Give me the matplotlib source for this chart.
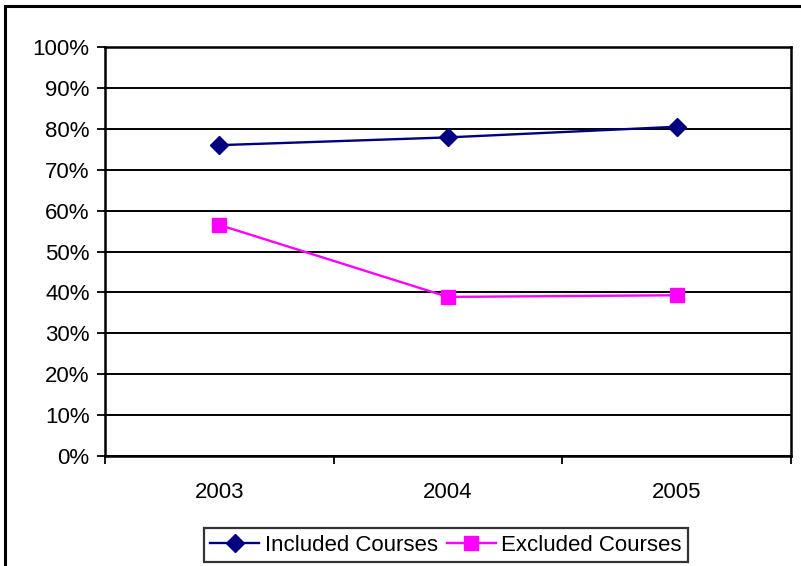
import matplotlib
matplotlib.use("Agg")
import matplotlib.pyplot as plt
from matplotlib.patches import Rectangle
from matplotlib.ticker import FixedLocator, PercentFormatter

plt.rcParams['font.family'] = ['Liberation Sans', 'DejaVu Sans']

years = ["2003", "2004", "2005"]
included = [76.0, 77.9, 80.5]
excluded = [56.5, 38.9, 39.3]
y_ticks = list(range(0, 101, 10))

W, H = 801, 566
FS = 16
fig = plt.figure(figsize=(W / 100, H / 100), dpi=100)

# chart frame (runs off the right and bottom edges)
fig.patches.append(Rectangle((5 / W, -0.05), 1.1, 1 - 6 / H + 0.05,
                             transform=fig.transFigure, fill=False,
                             edgecolor='black', linewidth=2.2, zorder=0))

ax = fig.add_axes([105 / W, 1 - 456 / H, (791 - 105) / W, (456 - 47) / H])
x = list(range(len(years)))

ax.plot(x, included, color='#000080', linewidth=1.7, marker='D',
        markersize=9, markerfacecolor='#000080', markeredgecolor='#000080',
        label='Included Courses', zorder=3)
ax.plot(x, excluded, color='#FF00FF', linewidth=1.7, marker='s',
        markersize=10, markerfacecolor='#FF00FF', markeredgecolor='#FF00FF',
        label='Excluded Courses', zorder=3)

ax.set_xlim(-0.5, len(years) - 0.5)
ax.set_ylim(0, 100)
ax.set_yticks(y_ticks)
ax.yaxis.set_major_formatter(PercentFormatter(decimals=0))
ax.set_xticks(x)
ax.set_xticklabels(years)
ax.xaxis.set_minor_locator(FixedLocator([i - 0.5 for i in range(len(years) + 1)]))

ax.tick_params(axis='x', which='major', length=0, pad=19, labelsize=FS)
ax.tick_params(axis='x', which='minor', length=6, width=1.3, direction='out')
ax.tick_params(axis='y', length=6, width=1.3, direction='out', pad=5,
               labelsize=FS)

ax.grid(axis='y', color='black', linewidth=1.4)
ax.set_axisbelow(True)
for side in ('left', 'bottom', 'right', 'top'):
    ax.spines[side].set_linewidth(1.8)
    ax.spines[side].set_color('black')

leg = ax.legend(loc='upper center', bbox_to_anchor=(0.497, -0.176), ncol=2,
                frameon=True, fancybox=False, fontsize=FS, handlelength=2.2,
                handletextpad=0.25, columnspacing=0.4, borderpad=0.3,
                borderaxespad=0)
leg.get_frame().set_edgecolor('black')
leg.get_frame().set_linewidth(1.6)

fig.savefig('out.png', dpi=100)
